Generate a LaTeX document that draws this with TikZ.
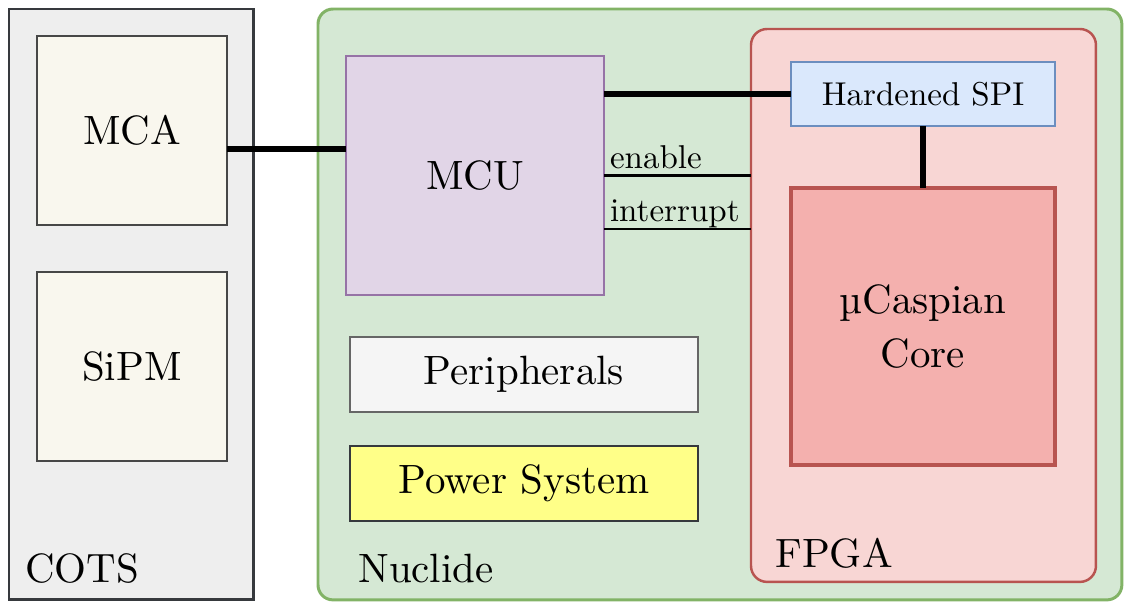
\documentclass[tikz,border=0pt]{standalone}
\usepackage{fontspec}
\setmainfont{lmroman10-regular.otf}
\usepackage{tikz}
\usetikzlibrary{calc}

\definecolor{cotsfill}{HTML}{EEEEEE}
\definecolor{cotsline}{HTML}{36393D}
\definecolor{partfill}{HTML}{F9F7EE}
\definecolor{partline}{HTML}{474747}
\definecolor{nucfill}{HTML}{D5E8D4}
\definecolor{nucline}{HTML}{82B366}
\definecolor{mcufill}{HTML}{E1D5E7}
\definecolor{mculine}{HTML}{9673A6}
\definecolor{perfill}{HTML}{F5F5F5}
\definecolor{perline}{HTML}{666666}
\definecolor{pwrfill}{HTML}{FFFF88}
\definecolor{fpgafill}{HTML}{F8D6D4}
\definecolor{redline}{HTML}{B85450}
\definecolor{spifill}{HTML}{DAE8FC}
\definecolor{spiline}{HTML}{6C8EBF}
\definecolor{corefill}{HTML}{F4B0AE}

\tikzset{
  blk/.style={draw, inner sep=0pt, outer sep=0pt, anchor=north west, align=center,
    font=\fontsize{23.3}{30.6}\selectfont},
  grp/.style={anchor=base west, inner sep=0pt, font=\fontsize{23.3}{28}\selectfont},
  bus/.style={line width=3.4pt},
  sig/.style={line width=1.2pt},
  siglabel/.style={pos=0, anchor=base west, xshift=0.1cm, yshift=0.14cm, inner sep=0pt,
    font=\fontsize{18.8}{22}\selectfont},
}

\begin{document}
\begin{tikzpicture}[x=0.02cm, y=-0.02cm]
\useasboundingbox (0,0) rectangle (1124,602);

\node[blk, fill=cotsfill, draw=cotsline, line width=1.7pt,
  minimum width=4.9cm, minimum height=11.82cm] (cots) at (9,9) {};
\node[blk, fill=nucfill, draw=nucline, line width=1.7pt, rounded corners=0.3cm,
  minimum width=16.08cm, minimum height=11.82cm] (nuclide) at (318,9) {};
\node[blk, fill=fpgafill, draw=redline, line width=1.4pt, rounded corners=0.32cm,
  minimum width=6.9cm, minimum height=11.06cm] (fpga) at (751,29) {};

\node[blk, fill=partfill, draw=partline, line width=1.3pt,
  minimum width=3.8cm, minimum height=3.78cm] (mca) at (37,36) {MCA};
\node[blk, fill=partfill, draw=partline, line width=1.3pt,
  minimum width=3.8cm, minimum height=3.78cm] (sipm) at (37,272) {SiPM};

\node[blk, fill=mcufill, draw=mculine, line width=1.3pt,
  minimum width=5.16cm, minimum height=4.78cm] (mcu) at (346,56) {MCU};
\node[blk, fill=perfill, draw=perline, line width=1.3pt,
  minimum width=6.96cm, minimum height=1.5cm] (periph) at (350,337) {Peripherals};
\node[blk, fill=pwrfill, draw=cotsline, line width=1.3pt,
  minimum width=6.96cm, minimum height=1.5cm] (power) at (350,446) {Power System};

\node[blk, fill=spifill, draw=spiline, line width=1.3pt,
  minimum width=5.28cm, minimum height=1.28cm,
  font=\fontsize{18.8}{22}\selectfont] (spi) at (791,62) {Hardened SPI};
\node[blk, fill=corefill, draw=redline, line width=2.2pt,
  minimum width=5.28cm, minimum height=5.54cm] (core) at (791,188) {µCaspian\\Core};

\node[grp] (cotslabel) at (25,582) {COTS};
\node[grp] (nuclabel) at (358,582) {Nuclide};
\node[grp] (fpgalabel) at (775,567) {FPGA};

\draw[bus] ([yshift=-0.37cm]mca.east) -- ([yshift=-0.37cm]mca.east -| mcu.west);
\draw[bus] (spi.west -| mcu.east) -- (spi.west);
\draw[bus] (spi.south) -- (core.north);
\draw[sig] (mcu.east) -- (mcu.east -| fpga.west) node[siglabel] {enable};
\draw[sig] ([yshift=-1.07cm]mcu.east) -- ([yshift=-1.07cm]mcu.east -| fpga.west)
  node[siglabel] {interrupt};
\end{tikzpicture}
\end{document}
